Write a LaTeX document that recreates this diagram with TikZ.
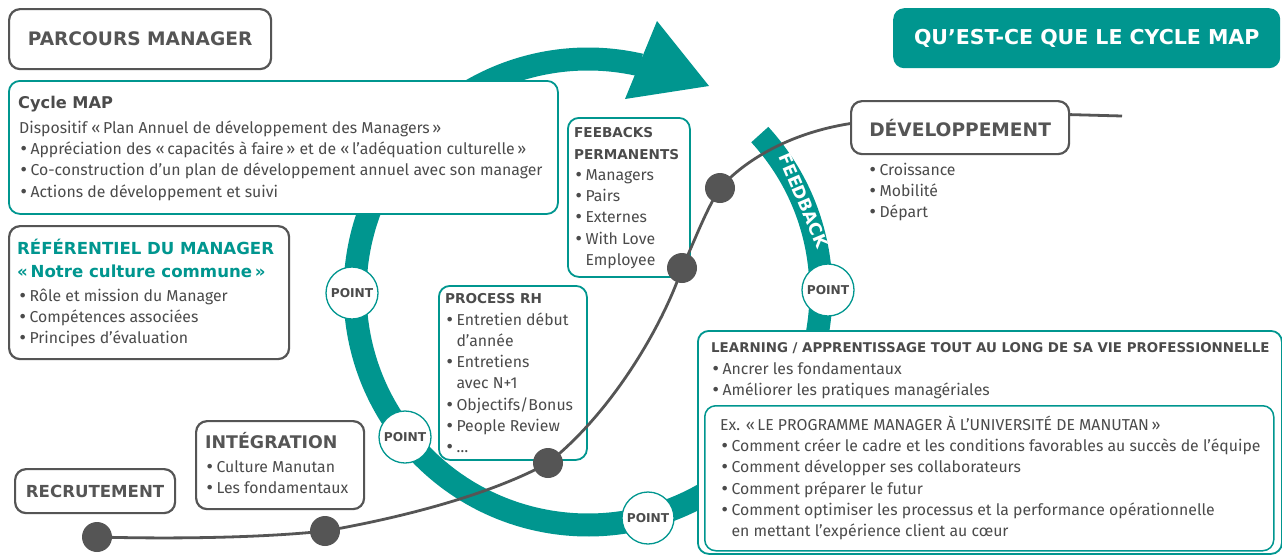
\documentclass[tikz,border=0pt]{standalone}
\usepackage{fontspec}
\setmainfont{Fira Sans}
\newfontfamily\hdfont{DejaVu Sans}
\newfontfamily\bulfont{DejaVu Sans}
\usetikzlibrary{calc}
\definecolor{teal1}{RGB}{0,150,143}
\definecolor{ink}{RGB}{75,75,75}
\definecolor{lineg}{RGB}{85,85,85}
\newcommand\bodyfont{\fontsize{15.8}{21.3}\selectfont}
\newcommand\bul{\strut{\bulfont •}\hspace{2pt}}
\newcommand\cnt{\strut\hphantom{{\bulfont •}\hspace{2pt}}}
\newcommand\hfs[1]{\hdfont\bfseries\fontsize{#1}{#1}\selectfont}
\begin{document}
\begin{tikzpicture}[x=1pt,y=-1pt,
 gbox/.style={draw=lineg,line width=2.2pt,rounded corners=11pt,fill=white,inner sep=0pt,anchor=north west},
 tbox/.style={draw=teal1,line width=1.8pt,rounded corners=11pt,fill=white,inner sep=0pt,anchor=north west},
 bodytxt/.style={font=\bodyfont,text=ink,align=left,inner sep=0pt,anchor=north west},
 hdg/.style={font=\hfs{#1},text=lineg,inner sep=0pt},
 ring/.style={draw=teal1,line width=23pt},
 pointc/.style={circle,draw=teal1,line width=1.3pt,fill=white,minimum size=52pt,inner sep=0pt,font=\hfs{12.2},text=ink},
 dotc/.style={circle,fill=lineg,minimum size=30pt,inner sep=0pt},
 lifeline/.style={draw=lineg,line width=2.8pt}]
\useasboundingbox (0,0) rectangle (1282,555);
\fill[white] (0,0) rectangle (1282,555);

% cycle ring
\coordinate (C) at (588,292);
\draw[ring] ($(C)+(-42.5:233)$) arc[start angle=-42.5,end angle=283,radius=233];
\fill[teal1] (625,99) -- (657,21) -- (709,86) -- cycle;
\node[font=\hfs{17},text=white,inner sep=0pt,rotate=-67] (fbtxt) at ($(C)+(-23:234)$) {FEEDBACK};

% title boxes
\node[gbox,minimum width=262pt,minimum height=60pt,font=\hfs{18.6},text=lineg] (parcours) at (8,8) {PARCOURS MANAGER};
\node[fill=teal1,rounded corners=11pt,anchor=north west,minimum width=387pt,minimum height=60pt,inner sep=0pt,font=\hfs{20.5},text=white] (qbox) at (893,8) {QU’EST-CE QUE LE CYCLE MAP};

% Cycle MAP
\node[tbox,minimum width=549pt,minimum height=133pt] (cycbox) at (8,80) {};
\node[hdg=16.2,anchor=base west,text=ink] (cyct) at (18,108) {Cycle MAP};
\node[bodytxt] (cycb) at (19,118) {\strut Dispositif «\,Plan Annuel de développement des Managers\,»\\ \bul Appréciation des «\,capacités à faire\,» et de «\,l’adéquation culturelle\,»\\ \bul Co-construction d’un plan de développement annuel avec son manager\\ \bul Actions de développement et suivi};

% Referentiel
\node[gbox,minimum width=280pt,minimum height=133pt] (refbox) at (8,225) {};
\node[hdg=16.6,anchor=base west,text=teal1] (reft1) at (17,254.5) {RÉFÉRENTIEL DU MANAGER};
\node[hdg=16.6,anchor=base west,text=teal1] (reft2) at (17,277) {«\,Notre culture commune\,»};
\node[bodytxt] (refb) at (18,286) {\bul Rôle et mission du Manager\\ \bul Compétences associées\\ \bul Principes d’évaluation};

% Integration
\node[gbox,minimum width=168pt,minimum height=88pt] (intbox) at (195,420) {};
\node[hdg=17.4,anchor=base west] (intt) at (205,448.5) {INTÉGRATION};
\node[bodytxt] (intb) at (205,457) {\bul Culture Manutan\\ \bul Les fondamentaux};

% Recrutement
\node[gbox,minimum width=160pt,minimum height=44pt,font=\hfs{16.6},text=lineg] (recbox) at (14,468) {RECRUTEMENT};

% Feebacks
\node[tbox,minimum width=122pt,minimum height=159pt] (feebox) at (567,117) {};
\node[bodytxt] (feeb) at (574,122.6) {\strut{\hfs{13.6}FEEBACKS}\\ \strut{\hfs{13.6}PERMANENTS}\\ \bul Managers\\ \bul Pairs\\ \bul Externes\\ \bul With Love\\ \cnt Employee};

% Process RH
\node[tbox,minimum width=148pt,minimum height=174pt] (probox) at (438,285) {};
\node[bodytxt] (prob) at (445,288.6) {\strut{\hfs{13.6}PROCESS RH}\\ \bul Entretien début\\ \cnt d’année\\ \bul Entretiens\\ \cnt avec N+1\\ \bul Objectifs/Bonus\\ \bul People Review\\ \bul …};

% Learning
\node[tbox,minimum width=584pt,minimum height=223pt] (lrnbox) at (697,330) {};
\node[bodytxt] (lrnb) at (711,337.6) {\strut{\hfs{13.4}LEARNING / APPRENTISSAGE TOUT AU LONG DE SA VIE PROFESSIONNELLE}\\ \bul Ancrer les fondamentaux\\ \bul Améliorer les pratiques managériales};
\node[tbox,line width=1.5pt,minimum width=569pt,minimum height=145pt] (exbox) at (704,405) {};
\node[bodytxt] (exb) at (720,415) {\strut Ex. «\,LE PROGRAMME MANAGER À L’UNIVERSITÉ DE MANUTAN\,»\\ \bul Comment créer le cadre et les conditions favorables au succès de l’équipe\\ \bul Comment développer ses collaborateurs\\ \bul Comment préparer le futur\\ \bul Comment optimiser les processus et la performance opérationnelle\\ \cnt en mettant l’expérience client au cœur};

% Developpement
\node[gbox,minimum width=218pt,minimum height=53pt,font=\hfs{18.6},text=lineg] (dev) at (850,100) {DÉVELOPPEMENT};
\node[bodytxt] (devb) at (868,160) {\bul Croissance\\ \bul Mobilité\\ \bul Départ};

% POINT circles
\node[pointc] (pt1) at (352,293) {POINT};
\node[pointc] (pt2) at (405,437) {POINT};
\node[pointc] (pt3) at (648,518) {POINT};
\node[pointc] (pt4) at (828,290) {POINT};

% life line
\node[dotc] (d0) at (97,537) {};
\node[dotc] (d1) at (325,531) {};
\node[dotc] (d2) at (548,463) {};
\node[dotc] (d3) at (682,268) {};
\node[dotc] (d4) at (720,188) {};
\coordinate (lend) at (1122,116);
\draw[lifeline] (d0.center) .. controls (170,539) and (260,538) .. (d1.center)
  .. controls (400,518) and (490,495) .. (d2.center)
  .. controls (615,410) and (665,320) .. (d3.center)
  .. controls (695,240) and (705,212) .. (d4.center)
  .. controls (745,160) and (790,133) .. ([yshift=4pt]dev.west);
\draw[lifeline] ([yshift=13pt]dev.east) -- (lend);
\end{tikzpicture}
\end{document}
